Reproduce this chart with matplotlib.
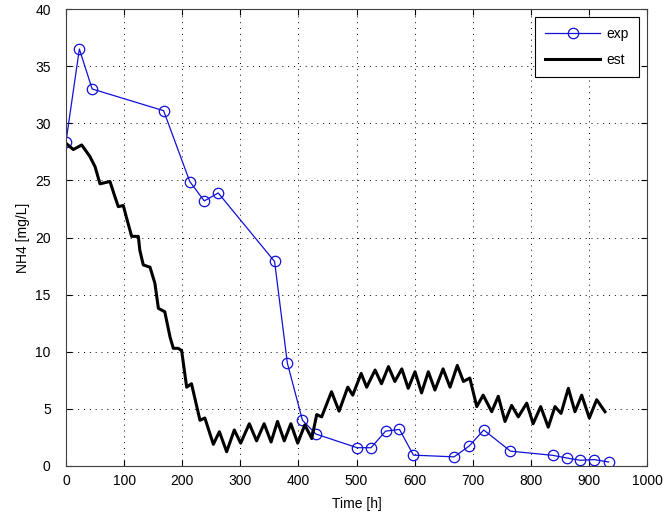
import matplotlib
matplotlib.use("Agg")
import matplotlib.pyplot as plt

plt.rcParams['font.family'] = ['Liberation Sans', 'DejaVu Sans']

# Experimental data
exp_t = [0, 23, 45, 168, 213, 238, 262, 359, 381, 407, 430, 501, 525, 550, 574,
         598, 668, 694, 719, 765, 838, 862, 885, 909, 934]
exp_v = [28.4, 36.5, 33.0, 31.1, 24.9, 23.2, 23.9, 17.9, 9.0, 4.0, 2.8, 1.6, 1.6, 3.05, 3.2,
         0.95, 0.8, 1.75, 3.15, 1.3, 0.93, 0.7, 0.5, 0.56, 0.35]

# Estimated curve (traced vertices)
est_t = [1, 12.6, 27, 41, 50, 58.5, 75.7, 84, 90, 98.6, 107, 113, 124.5, 127, 133, 144.6,
         153, 159, 170, 179, 184.7, 193, 199, 207.7, 216, 230.6, 239, 253.6, 264, 276.5,
         289.7, 300.6, 315.5, 328, 341, 353, 364, 375.7, 387, 398.8, 411, 423, 431.5, 440,
         457, 470, 485, 493.5, 508, 517.5, 532, 543, 555, 566, 578, 589, 600.7, 612, 623.6,
         635, 649, 661, 673.5, 684, 695, 707, 718, 732.7, 744, 755.6, 767, 778.5, 793, 804,
         817, 830, 841.6, 852, 864.6, 876, 887.6, 900.7, 913.4, 927.7]
est_v = [28.2, 27.7, 28.1, 27.1, 26.2, 24.7, 24.9, 23.6, 22.7, 22.8, 21.2, 20.1, 20.1, 18.9, 17.6, 17.4,
         16.0, 13.8, 13.5, 11.3, 10.3, 10.3, 10.1, 6.9, 7.2, 4.0, 4.2, 1.9, 3.0, 1.25,
         3.15, 2.0, 3.7, 2.2, 3.7, 2.1, 3.9, 2.2, 3.7, 2.0, 3.6, 2.4, 4.5, 4.3,
         6.5, 4.8, 6.9, 6.2, 8.1, 6.9, 8.4, 7.2, 8.7, 7.4, 8.5, 6.8, 8.25, 6.4, 8.25,
         6.65, 8.5, 6.9, 8.8, 7.4, 7.7, 5.2, 6.2, 4.75, 6.1, 3.9, 5.3, 4.3, 5.5, 3.7,
         5.2, 3.4, 5.2, 4.6, 6.8, 4.75, 6.2, 4.2, 5.8, 4.75]

x_ticks = [0, 100, 200, 300, 400, 500, 600, 700, 800, 900, 1000]
y_ticks = [0, 5, 10, 15, 20, 25, 30, 35, 40]

fig = plt.figure(figsize=(6.64, 5.18), dpi=100)
ax = fig.add_axes([0.0994, 0.1004, 0.875, 0.8822])

ax.plot(exp_t, exp_v, color='#1010d8', linewidth=0.9, marker='o', markersize=7.5,
        markerfacecolor='none', markeredgecolor='#1010d8', markeredgewidth=0.9, label='exp')
ax.plot(est_t, est_v, color='black', linewidth=2.2, label='est')

ax.set_xlim(0, 1000)
ax.set_ylim(0, 40)
ax.set_xticks(x_ticks)
ax.set_yticks(y_ticks)
ax.grid(True, linestyle=(0, (1, 5)), color='black', linewidth=0.7)
ax.tick_params(direction='in', top=True, right=True, labelsize=10, length=4)
ax.tick_params(axis='x', pad=6)
ax.tick_params(axis='y', pad=11)
for s in ax.spines.values():
    s.set_linewidth(0.8)
    s.set_color('#404040')

ax.set_xlabel('Time [h]', fontsize=10, labelpad=6)
ax.set_ylabel('NH4 [mg/L]', fontsize=10, labelpad=4)

leg = ax.legend(loc='upper right', fontsize=10, handlelength=4.0, fancybox=False,
                framealpha=1, edgecolor='black', borderaxespad=0.6, labelspacing=0.85,
                handletextpad=0.45, borderpad=0.7)
leg.get_frame().set_linewidth(0.8)

fig.savefig('out.png', dpi=100)
